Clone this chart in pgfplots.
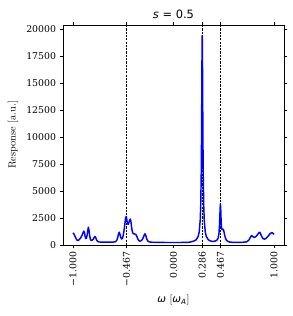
\documentclass[border=0pt]{standalone}
\usepackage{pgfplots}
\pgfplotsset{compat=1.18}
\usepackage{fontspec}
\newfontfamily\dvserif{DejaVu Serif}
\newfontfamily\dvsans{DejaVu Sans}
\begin{document}
\begin{tikzpicture}
\path[use as bounding box] (-63bp,-71bp) rectangle (230bp,245bp);
\begin{axis}[
  at={(0,0)}, anchor=south west,
  scale only axis, width=221bp, height=220bp,
  xmin=-1.1, xmax=1.1, ymin=0, ymax=20370,
  axis line style={line width=0.77bp, black},
  tick align=outside,
  major tick length=3.4bp,
  every tick/.style={line width=0.77bp, black},
  xtick={-1,-0.467,0,0.286,0.467,1},
  xticklabels={−1.000,−0.467,0.000,0.286,0.467,1.000},
  ytick={0,2500,5000,7500,10000,12500,15000,17500,20000},
  yticklabels={0,2500,5000,7500,10000,12500,15000,17500,20000},
  scaled y ticks=false,
  /pgf/number format/assume math mode=true,
  tick label style={font=\dvserif\fontsize{9.4}{10}\selectfont},
  xticklabel style={rotate=90, anchor=east},
  every axis title/.style={at={(axis description cs:0.5,1.05)}, anchor=center, font=\dvsans\fontsize{11.5}{12}\selectfont},
  title={\textit{s} = 0.5},
  every axis y label/.style={at={(axis description cs:-0.226,0.5)}, rotate=90, anchor=center, font=\fontsize{10.4}{12}\selectfont},
  ylabel={Response [a.u.]},
  every axis x label/.style={at={(axis description cs:0.5,-0.25)}, anchor=center, font=\fontsize{10.4}{12}\selectfont},
  xlabel={{\dvsans\itshape ω} [{\dvsans\itshape ω}\textsubscript{\dvsans\itshape A}]},
]
\addplot[black, line width=0.5bp, dash pattern=on 2.2bp off 1.1bp, forget plot] coordinates {(-0.467,0) (-0.467,20370)};
\addplot[black, line width=0.5bp, dash pattern=on 2.2bp off 1.1bp, forget plot] coordinates {(0.286,0) (0.286,20370)};
\addplot[black, line width=0.5bp, dash pattern=on 2.2bp off 1.1bp, forget plot] coordinates {(0.467,0) (0.467,20370)};
\addplot[color={rgb,1:red,0;green,0;blue,1}, line width=1.45bp, line join=round] coordinates {
(-1.000,1130) (-0.990,1000) (-0.980,800) (-0.970,600) (-0.960,450) (-0.950,420)
(-0.940,480) (-0.925,650) (-0.910,900) (-0.900,1150) (-0.893,1280) (-0.886,1150)
(-0.880,800) (-0.875,620) (-0.870,600) (-0.862,800) (-0.855,1200) (-0.848,1650)
(-0.842,1400) (-0.835,900) (-0.828,550) (-0.820,420) (-0.810,450) (-0.800,520)
(-0.790,700) (-0.782,790) (-0.775,700) (-0.765,450) (-0.755,330) (-0.740,280)
(-0.700,260) (-0.650,260) (-0.600,270) (-0.580,300) (-0.565,420) (-0.555,700)
(-0.545,1100) (-0.540,1190) (-0.533,1000) (-0.525,700) (-0.517,560) (-0.508,620)
(-0.500,900) (-0.490,1500) (-0.482,2100) (-0.476,2550) (-0.470,2640) (-0.464,2300)
(-0.458,2000) (-0.452,1900) (-0.445,2050) (-0.437,2300) (-0.430,2400) (-0.424,2200)
(-0.418,1700) (-0.410,1250) (-0.402,1060) (-0.395,1040) (-0.385,1010) (-0.375,980)
(-0.365,800) (-0.355,560) (-0.345,420) (-0.335,360) (-0.325,380) (-0.313,470)
(-0.300,700) (-0.290,950) (-0.283,1040) (-0.276,900) (-0.268,600) (-0.258,400)
(-0.245,300) (-0.225,260) (-0.150,240) (-0.050,230) (0.050,230) (0.120,240)
(0.160,260) (0.186,324) (0.206,376) (0.226,490) (0.246,800) (0.256,1220)
(0.266,2320) (0.271,3660) (0.276,6530) (0.279,9815) (0.282,14680) (0.284,17950)
(0.286,19400) (0.288,17950) (0.290,14680) (0.293,9815) (0.296,6530) (0.301,3660)
(0.306,2320) (0.316,1220) (0.326,800) (0.346,490) (0.366,376) (0.386,330)
(0.400,340) (0.420,380) (0.435,480) (0.445,650) (0.452,1025) (0.457,1630)
(0.461,2530) (0.464,3380) (0.467,3820) (0.470,3380) (0.473,2530) (0.477,1700)
(0.482,1450) (0.488,1400) (0.495,1450) (0.500,1350) (0.507,1000) (0.515,700)
(0.525,480) (0.540,340) (0.560,270) (0.600,240) (0.650,240) (0.700,260)
(0.730,300) (0.750,450) (0.765,700) (0.777,880) (0.790,780) (0.805,700)
(0.820,780) (0.840,1000) (0.855,1190) (0.862,1150) (0.875,850) (0.890,600)
(0.905,540) (0.920,600) (0.940,800) (0.960,1040) (0.975,1130) (0.985,1130)
(0.995,1030) (1.000,970)
};
\end{axis}
\end{tikzpicture}
\end{document}
